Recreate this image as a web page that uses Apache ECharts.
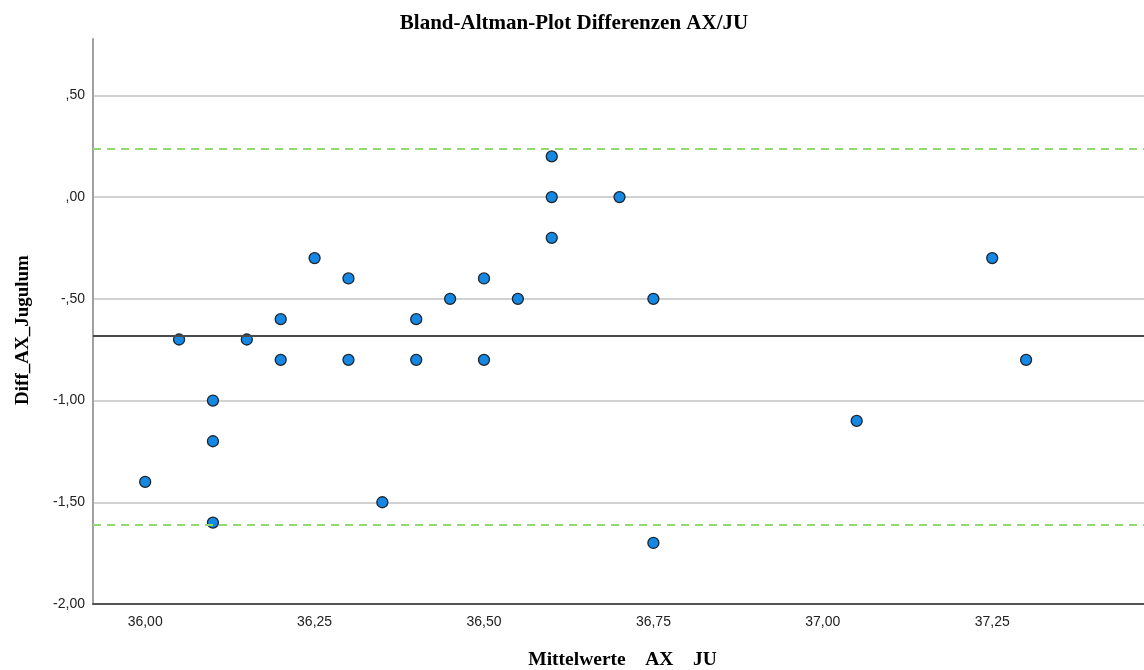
<!DOCTYPE html>
<html>
<head>
<meta charset="utf-8">
<script src="https://cdn.jsdelivr.net/npm/echarts@6.0.0/dist/echarts.min.js"></script>
<style>
  html, body { margin: 0; padding: 0; background: #fff; }
  #root { width: 1144px; height: 670px; }
</style>
</head>
<body>
<div id="root"></div>
<script>
// Mittelwerte AX/JU (x) und Differenzen (y)
const meanValues = [36.00, 36.05, 36.10, 36.10, 36.10, 36.15, 36.20, 36.20, 36.25, 36.30,
  36.30, 36.35, 36.40, 36.40, 36.45, 36.50, 36.50, 36.55, 36.60, 36.60, 36.60, 36.70,
  36.75, 36.75, 37.05, 37.25, 37.30];
const diffValues = [-1.4, -0.7, -1.0, -1.2, -1.6, -0.7, -0.6, -0.8, -0.3, -0.4,
  -0.8, -1.5, -0.6, -0.8, -0.5, -0.4, -0.8, -0.5, 0.2, 0.0, -0.2, 0.0,
  -0.5, -1.7, -1.1, -0.3, -0.8];

const xTicks = [36.00, 36.25, 36.50, 36.75, 37.00, 37.25];
const meanDiff = -0.683;
const upperLoA = 0.241;
const lowerLoA = -1.607;

// SPSS-Stil: Komma, ohne fuehrende Null
const fmt = v => {
  let s = Math.abs(v).toFixed(2).replace('.', ',');
  if (s.startsWith('0,')) s = s.slice(1);
  return (v < 0 ? '-' : '') + s;
};

const points = meanValues.map((x, i) => [x, diffValues[i]]);

const chart = echarts.init(document.getElementById('root'));
chart.setOption({
  animation: false,
  title: {
    text: 'Bland-Altman-Plot Differenzen AX/JU',
    left: 569,
    textAlign: 'center',
    top: 8,
    textStyle: { fontFamily: 'Liberation Serif', fontWeight: 'bold', fontSize: 21, color: '#000' }
  },
  grid: { left: 93, right: 0, top: 39, bottom: 66, containLabel: false, outerBoundsMode: 'none' },
  xAxis: {
    type: 'value',
    min: 35.923,
    max: 37.474,
    name: 'Mittelwerte    AX    JU',
    nameLocation: 'middle',
    nameGap: 46,
    nameTextStyle: { fontFamily: 'Liberation Serif', fontWeight: 'bold', fontSize: 19.5, color: '#000', padding: [0, 0, 0, 8] },
    axisLine: { show: true, onZero: false, lineStyle: { color: '#555', width: 2 } },
    axisTick: { show: false },
    splitLine: { show: false },
    axisLabel: {
      customValues: xTicks,
      formatter: fmt,
      margin: 11,
      fontFamily: 'Liberation Sans',
      fontSize: 14,
      color: '#222'
    }
  },
  yAxis: {
    type: 'value',
    min: -2,
    max: 0.777,
    interval: 0.5,
    name: 'Diff_AX_Jugulum',
    nameLocation: 'middle',
    nameGap: 60,
    nameTextStyle: { fontFamily: 'Liberation Serif', fontWeight: 'bold', fontSize: 19, color: '#000', padding: [0, 17, 0, 0] },
    axisLine: { show: true, lineStyle: { color: '#a0a0a0', width: 2 } },
    axisTick: { show: false },
    splitLine: { show: true, showMinLine: false, showMaxLine: false, lineStyle: { color: '#d2d2d2', width: 2 } },
    axisLabel: {
      showMaxLabel: false,
      formatter: fmt,
      margin: 8,
      fontFamily: 'Liberation Sans',
      fontSize: 14,
      color: '#222'
    }
  },
  series: [{
    type: 'scatter',
    data: points,
    symbolSize: 11,
    itemStyle: { color: '#1588e4', opacity: 1, borderColor: '#1c2630', borderWidth: 1.3 },
    markLine: {
      silent: true,
      symbol: 'none',
      label: { show: false },
      data: [
        { yAxis: meanDiff, lineStyle: { color: '#4a4a4a', width: 2, type: 'solid' } },
        { yAxis: upperLoA, lineStyle: { color: '#92da70', width: 2, type: [8, 6] } },
        { yAxis: lowerLoA, lineStyle: { color: '#92da70', width: 2, type: [8, 6] } }
      ]
    },
    z: 3
  }]
});
</script>
</body>
</html>
